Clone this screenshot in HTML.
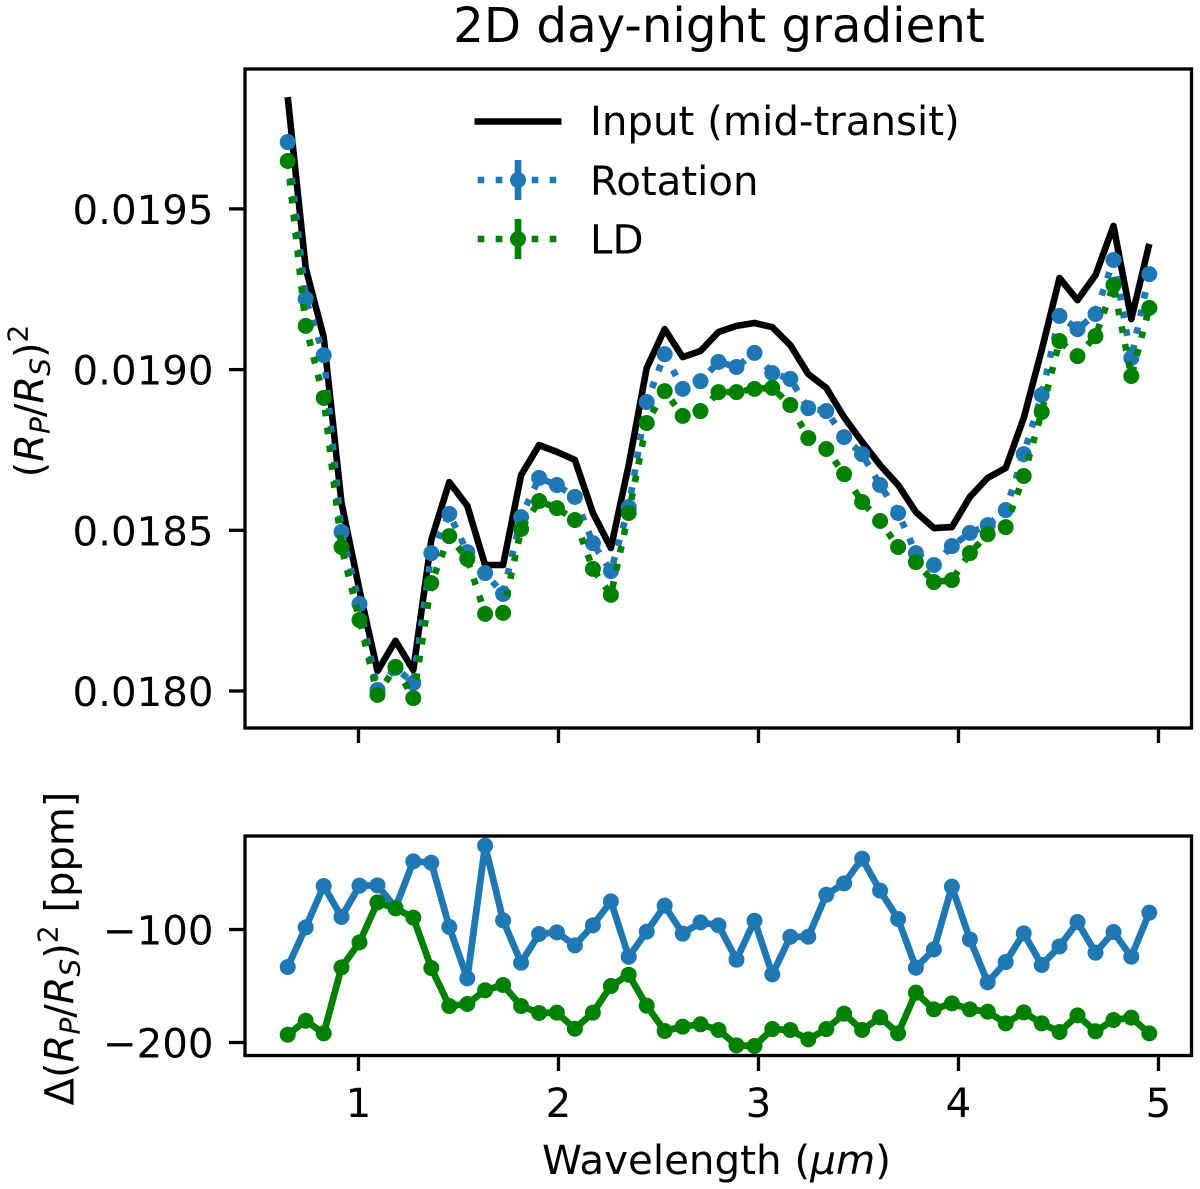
<!DOCTYPE html>
<html lang="en">
<head>
<meta charset="utf-8">
<title>2D day-night gradient</title>
<style>
html,body{margin:0;padding:0;background:#fff;}
svg{display:block;}
text{font-family:"DejaVu Sans",sans-serif;fill:#000;}
.it{font-style:italic;}
</style>
</head>
<body>
<svg id="chart" xmlns="http://www.w3.org/2000/svg" width="1200" height="1189" viewBox="0 0 1200 1189">
  <rect x="0" y="0" width="1200" height="1189" fill="#fff"/>
  <text x="719" y="42" font-size="48.3" text-anchor="middle">2D day-night gradient</text>
  <g id="top-marks"></g>
  <g id="bottom-marks"></g>
  <rect x="245" y="69" width="946.5" height="659" fill="none" stroke="#000" stroke-width="3.3"/>
  <rect x="245" y="836" width="946.5" height="219.5" fill="none" stroke="#000" stroke-width="3.3"/>
  <g id="ticks"></g>
  <text transform="translate(43.5,401) rotate(-90)" font-size="40" text-anchor="middle">(<tspan class="it">R</tspan><tspan class="it" font-size="28" dy="6">P</tspan><tspan dy="-6">/</tspan><tspan class="it">R</tspan><tspan class="it" font-size="28" dy="6">S</tspan><tspan dy="-6">)</tspan><tspan font-size="28" dy="-16">2</tspan></text>
  <text transform="translate(73.5,948.5) rotate(-90)" font-size="40" text-anchor="middle">Δ(<tspan class="it">R</tspan><tspan class="it" font-size="28" dy="6">P</tspan><tspan dy="-6">/</tspan><tspan class="it">R</tspan><tspan class="it" font-size="28" dy="6">S</tspan><tspan dy="-6">)</tspan><tspan font-size="28" dy="-16">2</tspan><tspan dy="16"> [ppm]</tspan></text>
  <text x="716.5" y="1174" font-size="40.4" text-anchor="middle">Wavelength (<tspan class="it">μm</tspan>)</text>
  <g>
    <g>
      <line x1="474.5" y1="121.5" x2="561.5" y2="121.5" stroke="#000" stroke-width="6.6"/>
      <text x="590" y="135" font-size="40.3">Input (mid-transit)</text>
    </g>
    <g>
      <line x1="477.7" y1="180" x2="558" y2="180" stroke="#1f77b4" stroke-width="6.6" stroke-dasharray="6.6 11.4"/>
      <line x1="518" y1="160" x2="518" y2="200" stroke="#1f77b4" stroke-width="6.6"/>
      <circle cx="518" cy="180" r="8" fill="#1f77b4"/>
      <text x="590" y="195" font-size="40.3">Rotation</text>
    </g>
    <g>
      <line x1="477.7" y1="239" x2="558" y2="239" stroke="#008000" stroke-width="6.6" stroke-dasharray="6.6 11.4"/>
      <line x1="518" y1="219" x2="518" y2="259" stroke="#008000" stroke-width="6.6"/>
      <circle cx="518" cy="239" r="8" fill="#008000"/>
      <text x="590" y="253.5" font-size="40.3">LD</text>
    </g>
  </g>
</svg>
<script>
const wavelengths = [0.646,0.736,0.826,0.915,1.005,1.095,1.185,1.274,1.364,1.454,1.544,1.633,1.723,1.813,1.903,1.992,2.082,2.172,2.262,2.351,2.441,2.531,2.621,2.710,2.800,2.890,2.980,3.069,3.159,3.249,3.339,3.428,3.518,3.608,3.698,3.787,3.877,3.967,4.057,4.146,4.236,4.326,4.416,4.505,4.595,4.685,4.775,4.864,4.954];
const inputDepth = [0.019848,0.019316,0.019101,0.018585,0.018314,0.018062,0.018156,0.018065,0.018470,0.018650,0.018576,0.018392,0.018392,0.018672,0.018765,0.018744,0.018719,0.018554,0.018445,0.018703,0.019005,0.019126,0.019039,0.019058,0.019117,0.019136,0.019145,0.019132,0.019076,0.018986,0.018943,0.018852,0.018775,0.018703,0.018641,0.018557,0.018507,0.018510,0.018604,0.018663,0.018694,0.018849,0.019061,0.019285,0.019216,0.019294,0.019447,0.019157,0.019391];
const rotationDepth = [0.019708,0.019220,0.019045,0.018495,0.018271,0.018003,0.018072,0.018025,0.018429,0.018551,0.018432,0.018367,0.018302,0.018541,0.018663,0.018641,0.018604,0.018460,0.018373,0.018572,0.018899,0.019048,0.018940,0.018964,0.019024,0.019008,0.019052,0.018989,0.018971,0.018880,0.018871,0.018790,0.018737,0.018641,0.018554,0.018429,0.018392,0.018451,0.018492,0.018516,0.018563,0.018737,0.018921,0.019167,0.019126,0.019173,0.019341,0.019036,0.019297];
const ldDepth = [0.019649,0.019136,0.018912,0.018448,0.018221,0.017988,0.018075,0.017978,0.018336,0.018482,0.018411,0.018240,0.018243,0.018504,0.018591,0.018569,0.018532,0.018380,0.018299,0.018554,0.018834,0.018933,0.018856,0.018871,0.018930,0.018930,0.018940,0.018943,0.018890,0.018787,0.018753,0.018675,0.018588,0.018529,0.018448,0.018401,0.018339,0.018345,0.018429,0.018488,0.018510,0.018669,0.018868,0.019089,0.019042,0.019104,0.019263,0.018980,0.019192];
const rotationDelta = [-133.2,-98.1,-61.5,-88.9,-61.2,-60.9,-80.7,-39.7,-40.9,-97.8,-143.2,-25.8,-91.9,-129.4,-104.0,-102.5,-114.0,-96.3,-75.1,-124.1,-101.9,-78.9,-103.7,-93.7,-96.3,-126.7,-92.2,-139.7,-106.4,-106.4,-69.2,-59.2,-37.3,-65.6,-90.7,-133.8,-117.6,-62.1,-108.7,-146.8,-128.8,-103.4,-131.4,-114.9,-93.4,-120.5,-102.2,-124.1,-85.1];
const ldDelta = [-193.1,-180.7,-191.9,-133.5,-111.4,-76.0,-81.3,-89.5,-134.1,-167.7,-165.9,-153.8,-149.1,-167.7,-173.9,-173.6,-187.8,-173.6,-150.0,-140.0,-167.4,-189.8,-186.0,-183.9,-188.9,-202.5,-203.1,-188.1,-188.9,-197.2,-188.1,-174.5,-188.9,-177.7,-191.9,-155.9,-170.7,-165.4,-170.7,-172.7,-183.1,-173.3,-183.1,-190.7,-176.0,-190.1,-180.1,-178.0,-191.9];
const xTicks = [1,2,3,4,5];
const xTickLabels = ["1","2","3","4","5"];
const topYTicks = [0.018,0.0185,0.019,0.0195];
const topYTickLabels = ["0.0180","0.0185","0.0190","0.0195"];
const bottomYTicks = [-100,-200];
const bottomYTickLabels = ["\u2212100","\u2212200"];

const NS = "http://www.w3.org/2000/svg";
const BLUE = "#1f77b4", GREEN = "#008000";
function xPos(w){ return 358.5 + (w - 1) * 200; }
function yTop(v){ return 691 - (v - 0.018) / 0.0005 * 160.7; }
function yBottom(p){ return 929.5 - (p + 100) * 1.13; }
function make(tag, attrs){
  const el = document.createElementNS(NS, tag);
  for (const k in attrs) el.setAttribute(k, attrs[k]);
  return el;
}
function drawLine(parent, name, xs, vals, yFn, color, width, dash){
  const pts = vals.map((v, i) => xPos(xs[i]).toFixed(2) + "," + yFn(v).toFixed(2)).join(" ");
  const el = make("polyline", {points: pts, fill: "none", stroke: color, "stroke-width": width, "stroke-linejoin": "round"});
  if (dash) el.setAttribute("stroke-dasharray", dash);
  
  
  parent.appendChild(el);
}
function drawPoints(parent, name, xs, vals, yFn, color){
  vals.forEach((v, i) => {
    const c = make("circle", {cx: xPos(xs[i]).toFixed(2), cy: yFn(v).toFixed(2), r: 8, fill: color});
    
    
    parent.appendChild(c);
  });
}
const topG = document.getElementById("top-marks");
const botG = document.getElementById("bottom-marks");
drawLine(topG, "input-line", wavelengths, inputDepth, yTop, "#000", 6.6, null);
drawLine(topG, "rotation-dotted-line", wavelengths, rotationDepth, yTop, BLUE, 6.6, "6.6 11.4");
drawPoints(topG, "rotation-point", wavelengths, rotationDepth, yTop, BLUE);
drawLine(topG, "ld-dotted-line", wavelengths, ldDepth, yTop, GREEN, 6.6, "6.6 11.4");
drawPoints(topG, "ld-point", wavelengths, ldDepth, yTop, GREEN);
drawLine(botG, "rotation-delta-line", wavelengths, rotationDelta, yBottom, BLUE, 6.8, null);
drawPoints(botG, "rotation-delta-point", wavelengths, rotationDelta, yBottom, BLUE);
drawLine(botG, "ld-delta-line", wavelengths, ldDelta, yBottom, GREEN, 6.8, null);
drawPoints(botG, "ld-delta-point", wavelengths, ldDelta, yBottom, GREEN);

const tickG = document.getElementById("ticks");
function tickMark(name, x1, y1, x2, y2){
  const t = make("line", {x1: x1, y1: y1, x2: x2, y2: y2, stroke: "#000", "stroke-width": 3.3});
  
  
  tickG.appendChild(t);
}
function tickLabel(name, x, y, anchor, str){
  const t = make("text", {x: x, y: y, "text-anchor": anchor, "font-size": 40.3});
  t.textContent = str;
  
  
  tickG.appendChild(t);
}
xTicks.forEach((w, i) => {
  const x = xPos(w);
  tickMark("top-x-tick", x, 728, x, 743);
  tickMark("bottom-x-tick", x, 1055.5, x, 1071);
  tickLabel("x-tick-label", x, 1117, "middle", xTickLabels[i]);
});
topYTicks.forEach((v, i) => {
  const y = yTop(v);
  tickMark("top-y-tick", 229, y, 245, y);
  tickLabel("top-y-tick-label", 213.5, y + 15, "end", topYTickLabels[i]);
});
bottomYTicks.forEach((v, i) => {
  const y = yBottom(v);
  tickMark("bottom-y-tick", 229, y, 245, y);
  tickLabel("bottom-y-tick-label", 213.5, y + 15, "end", bottomYTickLabels[i]);
});
</script>
</body>
</html>
